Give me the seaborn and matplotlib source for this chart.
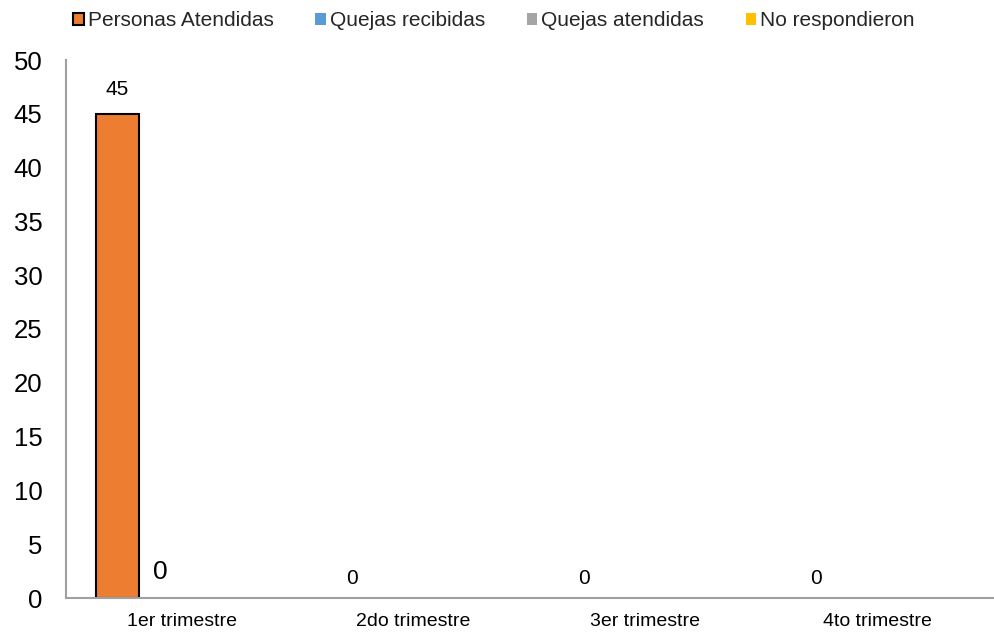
import numpy as np
import pandas as pd
import matplotlib
matplotlib.use("Agg")
import matplotlib.pyplot as plt
from matplotlib.patches import Rectangle
import seaborn as sns

categories = ["1er trimestre", "2do trimestre", "3er trimestre", "4to trimestre"]
series = ["Personas Atendidas", "Quejas recibidas", "Quejas atendidas", "No respondieron"]
personas_atendidas = [45, 0, 0, 0]
quejas_recibidas = [0, 0, 0, 0]
quejas_atendidas = [0, 0, 0, 0]
no_respondieron = [0, 0, 0, 0]
colors = ["#ED7D31", "#5B9BD5", "#A5A5A5", "#FFC000"]
yticks = [0, 5, 10, 15, 20, 25, 30, 35, 40, 45, 50]

values = [personas_atendidas, quejas_recibidas, quejas_atendidas, no_respondieron]
rows = []
for s, vals in zip(series, values):
    for c, v in zip(categories, vals):
        rows.append({"trimestre": c, "serie": s, "valor": v})
df = pd.DataFrame(rows)

sns.set_theme(style="white")
plt.rcParams["font.family"] = ["Liberation Sans", "DejaVu Sans"]

fig = plt.figure(figsize=(9.94, 6.33), dpi=100)
ax = fig.add_axes([66 / 994, 1 - 598 / 633, 927 / 994, 538 / 633])

sns.barplot(data=df, x="trimestre", y="valor", hue="serie", hue_order=series,
            palette=colors, saturation=1, width=0.74, linewidth=0, ax=ax,
            legend=False, errorbar=None)

# edge only on the visible Personas Atendidas bar
for bar in ax.containers[0]:
    if bar.get_height() > 0:
        bar.set_edgecolor("black")
        bar.set_linewidth(1.5)

# data labels
for bar, v in zip(ax.containers[0], personas_atendidas):
    off_y = 17.3 if v > 0 else 14.4
    off_x = 0 if v > 0 else 2
    ax.annotate(f"{v}", (bar.get_x() + bar.get_width() / 2, bar.get_height()),
                xytext=(off_x, off_y), textcoords="offset points", ha="center",
                va="center", fontsize=15, color="black")
bar = ax.containers[1][0]
ax.annotate(f"{quejas_recibidas[0]}", (bar.get_x() + bar.get_width() / 2, 0),
            xytext=(0, 18.7), textcoords="offset points", ha="center",
            va="center", fontsize=19, color="black")

ax.set_ylim(0, 50)
ax.set_xlim(-0.5, 3.5)
ax.set_yticks(yticks)
ax.set_yticklabels([str(t) for t in yticks], fontsize=18.5, color="black")
ax.tick_params(axis="x", labelsize=14, colors="black", length=0, pad=10.5)
ax.tick_params(axis="y", length=0, pad=17)
ax.set_xlabel("")
ax.set_ylabel("")
for side in ["top", "right"]:
    ax.spines[side].set_visible(False)
for side in ["left", "bottom"]:
    ax.spines[side].set_color("#A0A0A0")
    ax.spines[side].set_linewidth(1.5)

handles = []
for i, c in enumerate(colors):
    if i == 0:
        handles.append(Rectangle((0, 0), 1, 1, facecolor=c, edgecolor="black", linewidth=1.5))
    else:
        handles.append(Rectangle((0, 0), 1, 1, facecolor=c, edgecolor="none"))
fig.legend(handles, series, loc="center", bbox_to_anchor=(0.497, 1 - 21 / 633),
           ncol=4, frameon=False, fontsize=15, handlelength=0.5, handleheight=0.5,
           handletextpad=0.2, columnspacing=2.0)

fig.savefig("out.png", dpi=100)
